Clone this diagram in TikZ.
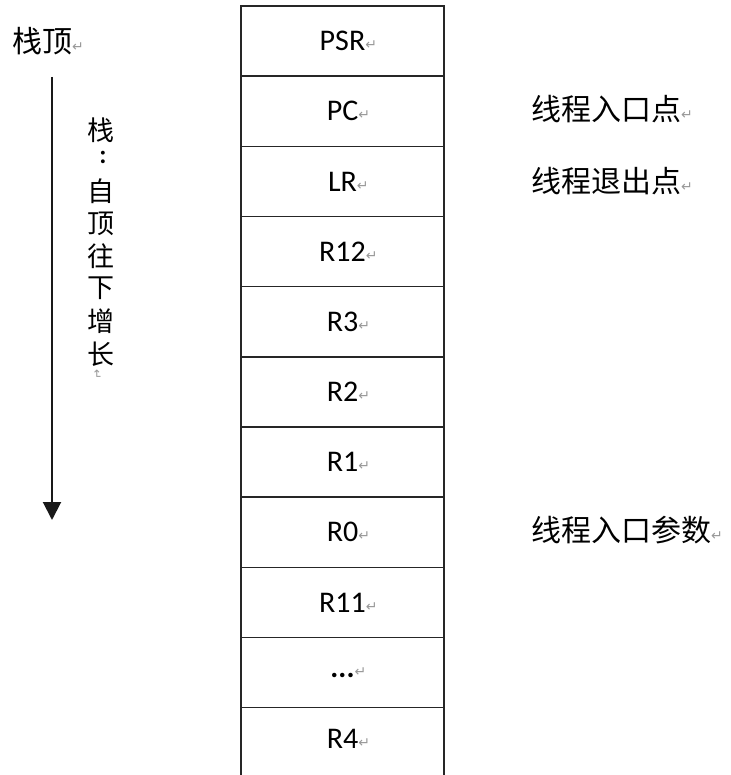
\documentclass[tikz,border=0pt]{standalone}
\usepackage{fontspec}
\setmainfont{Carlito}
\newfontfamily\cjk{Noto Sans CJK SC}
\newfontfamily\dvs{DejaVu Sans}
\usetikzlibrary{arrows.meta}
\newcommand\pmk{\rlap{\raisebox{1pt}{\dvs\fontsize{14}{14}\selectfont\color{black!40}↵}}}
\begin{document}
\begin{tikzpicture}[x=1pt,y=-1pt,
  cell/.style={draw=black!85,line width=1.4pt,outer sep=0pt,minimum width=203pt,minimum height=70.17pt,inner sep=0pt,font=\fontsize{30}{30}\selectfont},
  side/.style={anchor=west,inner sep=0pt,font=\cjk\fontsize{30}{30}\selectfont},
  vch/.style={inner sep=0pt,font=\cjk\fontsize{27}{27}\selectfont}]
\useasboundingbox (0,0) rectangle (730,775);
\fill[white] (0,0) rectangle (730,775);
% stack cells
\node[cell] (c0) at (342.5,41.1) {PSR\pmk};
\node[cell] (c1) at (342.5,111.3) {PC\pmk};
\node[cell] (c2) at (342.5,181.4) {LR\pmk};
\node[cell] (c3) at (342.5,251.6) {R12\pmk};
\node[cell] (c4) at (342.5,321.8) {R3\pmk};
\node[cell] (c5) at (342.5,391.9) {R2\pmk};
\node[cell] (c6) at (342.5,462.1) {R1\pmk};
\node[cell] (c7) at (342.5,532.3) {R0\pmk};
\node[cell] (c8) at (342.5,602.4) {R11\pmk};
\node[cell] (c9) at (342.5,672.6) {\textbf{...}\pmk};
\coordinate (bl) at (241,778);
\coordinate (br) at (444,778);
\draw[draw=black!85,line width=1.4pt] (bl) -- (c9.south west) -- (c9.south east) -- (br);
\node[inner sep=0pt,font=\fontsize{30}{30}\selectfont] (c10) at (342.5,739) {R4\pmk};
% right labels
\node[side] (t1) at (531,109) {线程入口点\pmk};
\node[side] (t2) at (531,181) {线程退出点\pmk};
\node[side] (t3) at (531,530) {线程入口参数\pmk};
% stack top label
\node[side] (top) at (12,41) {栈顶\pmk};
% arrow
\coordinate (atop) at (52,77);
\coordinate (abot) at (52,520);
\draw[line width=2pt,black!90,-{Triangle[width=18pt,length=18pt]}] (atop) -- (abot);
% vertical text
\node[vch] (v1) at (101,130) {栈};
\node[inner sep=0pt,font=\bfseries\fontsize{26}{26}\selectfont] (v2) at (103,157) {:};
\node[vch] (v3) at (101,191) {自};
\node[vch] (v4) at (101,224) {顶};
\node[vch] (v5) at (101,256) {往};
\node[vch] (v6) at (101,288) {下};
\node[vch] (v7) at (101,321) {增};
\node[vch] (v8) at (101,354) {长};
\node[inner sep=0pt,rotate=-90,font=\dvs\fontsize{12}{12}\selectfont,text=black!40] (v9) at (97,375) {↵};
\end{tikzpicture}
\end{document}
